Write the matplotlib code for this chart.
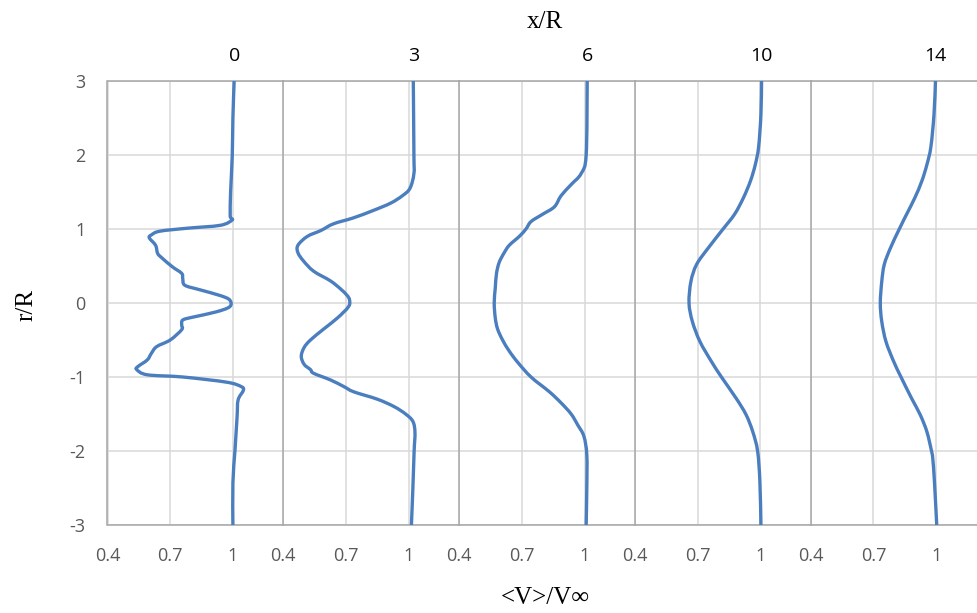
"""Mean velocity deficit profiles behind a rotor at several x/R stations."""

import matplotlib
matplotlib.use("Agg")
import matplotlib.pyplot as plt
import numpy as np
from matplotlib.path import Path
from matplotlib.patches import PathPatch
from matplotlib.transforms import blended_transform_factory

plt.rcParams["axes.unicode_minus"] = False

# x/R stations shown above each panel
stations = ["0", "3", "6", "10", "14"]

# <V>/Vinf profiles (r/R, value)
r0 = [3.0, 2.5, 2.0, 1.5, 1.2, 1.15, 1.12, 1.05, 1.01, 0.97, 0.92, 0.88, 0.78, 0.67,
      0.61, 0.49, 0.40, 0.33, 0.24, 0.18, 0.10, 0.04, -0.05, -0.12, -0.19, -0.23,
      -0.30, -0.36, -0.50, -0.59, -0.68, -0.77, -0.86, -0.90, -0.97, -1.00, -1.07,
      -1.13, -1.18, -1.31, -1.54, -1.99, -2.43, -3.0]
v0 = [1.006, 1.0, 0.997, 0.989, 0.987, 0.99, 0.996, 0.94, 0.78, 0.65, 0.61, 0.60, 0.63,
      0.64, 0.66, 0.71, 0.755, 0.76, 0.77, 0.84, 0.94, 0.985, 0.985, 0.92, 0.81, 0.76,
      0.755, 0.755, 0.70, 0.635, 0.61, 0.59, 0.545, 0.54, 0.59, 0.76, 0.97,
      1.04, 1.05, 1.025, 1.02, 1.01, 1.0, 1.0]

r3 = [3.0, 2.0, 1.75, 1.55, 1.45, 1.35, 1.25, 1.15, 1.07, 0.98, 0.90, 0.78, 0.68, 0.57,
      0.43, 0.30, 0.19, 0.10, 0.04, -0.05, -0.20, -0.35, -0.50, -0.60, -0.72, -0.83,
      -0.90, -0.95, -1.04, -1.13, -1.20, -1.30, -1.40, -1.50, -1.60, -1.75, -2.0,
      -2.5, -3.0]
v3 = [1.022, 1.025, 1.025, 1.006, 0.97, 0.914, 0.83, 0.735, 0.64, 0.58, 0.515, 0.47,
      0.47, 0.496, 0.545, 0.625, 0.674, 0.706, 0.717, 0.712, 0.66, 0.594, 0.53, 0.50,
      0.486, 0.50, 0.53, 0.545, 0.626, 0.69, 0.737, 0.85, 0.93, 0.985, 1.02, 1.03,
      1.026, 1.02, 1.013]

r6 = [3.0, 2.0, 1.75, 1.6, 1.45, 1.3, 1.2, 1.1, 1.0, 0.9, 0.78, 0.68, 0.55, 0.4, 0.2,
      0.0, -0.2, -0.35, -0.5, -0.65, -0.8, -1.0, -1.2, -1.35, -1.5, -1.65, -1.8,
      -2.05, -2.5, -3.0]
v6 = [1.013, 1.008, 0.984, 0.936, 0.888, 0.856, 0.80, 0.744, 0.72, 0.688, 0.64, 0.616,
      0.592, 0.579, 0.573, 0.568, 0.573, 0.584, 0.608, 0.64, 0.68, 0.744, 0.832,
      0.888, 0.936, 0.968, 0.997, 1.011, 1.011, 1.008]

r10 = [3.0, 2.55, 2.11, 1.87, 1.65, 1.42, 1.2, 1.0, 0.74, 0.52, 0.29, 0.0, -0.25,
       -0.52, -0.79, -1.0, -1.29, -1.51, -1.74, -2.0, -2.41, -3.0]
v10 = [1.006, 1.003, 0.992, 0.976, 0.953, 0.919, 0.877, 0.822, 0.75, 0.695, 0.668,
       0.659, 0.675, 0.711, 0.766, 0.814, 0.885, 0.932, 0.964, 0.987, 0.998, 1.003]

r14 = [3.0, 2.55, 2.11, 1.87, 1.65, 1.42, 1.2, 1.0, 0.74, 0.52, 0.29, 0.0, -0.25,
       -0.52, -0.79, -1.0, -1.29, -1.51, -1.74, -2.0, -2.1, -2.41, -3.0]
v14 = [0.997, 0.99, 0.975, 0.956, 0.932, 0.898, 0.859, 0.824, 0.781, 0.752, 0.74,
       0.733, 0.74, 0.76, 0.797, 0.832, 0.883, 0.924, 0.956, 0.978, 0.984, 0.992, 1.003]

profiles = [(r0, v0), (r3, v3), (r6, v6), (r10, v10), (r14, v14)]

x_ticks = [0.4, 0.7, 1.0]
x_tick_labels = ["0.4", "0.7", "1"]
y_ticks = [-3, -2, -1, 0, 1, 2, 3]

LINE = "#4A7EBF"
GRID = "#D9D9D9"
SPINE = "#A6A6A6"
TICK = "#595959"


def smooth_path(x, y):
    # Excel-style smoothed line: cubic Bezier through every point (Catmull-Rom handles)
    pts = np.column_stack([x, y])
    verts = [pts[0]]
    codes = [Path.MOVETO]
    n = len(pts)
    for k in range(n - 1):
        p0 = pts[max(k - 1, 0)]
        p1 = pts[k]
        p2 = pts[k + 1]
        p3 = pts[min(k + 2, n - 1)]
        verts += [p1 + (p2 - p0) / 6, p2 - (p3 - p1) / 6, p2]
        codes += [Path.CURVE4] * 3
    return Path(verts, codes)


W, H = 978, 613
fig = plt.figure(figsize=(W / 100, H / 100), dpi=100)

left_px, top_px, bottom_px, panel_px = 107.5, 81, 525, 175.8
unit_px = 125.4 / 0.6  # pixels per <V>/Vinf unit

for i, (r, v) in enumerate(profiles):
    x0 = left_px + i * panel_px
    width_px = min(panel_px, W - x0)
    ax = fig.add_axes([x0 / W, 1 - bottom_px / H, width_px / W, (bottom_px - top_px) / H])
    ax.set_xlim(0.4, 0.4 + width_px / unit_px)
    ax.set_ylim(-3, 3)

    ax.set_xticks(x_ticks)
    ax.set_xticklabels(x_tick_labels)
    ax.set_yticks(y_ticks)
    ax.tick_params(length=0, labelsize=13, labelcolor=TICK, pad=16)
    for lab in ax.get_xticklabels() + ax.get_yticklabels():
        lab.set_fontfamily("Open Sans")
    if i > 0:
        ax.tick_params(labelleft=False)

    ax.grid(True, color=GRID, linewidth=1.1)
    ax.set_axisbelow(True)
    for side in ["left", "right", "top", "bottom"]:
        ax.spines[side].set_color(SPINE)
        ax.spines[side].set_linewidth(1.1)
    ax.spines["right"].set_visible(False)

    ax.add_patch(PathPatch(smooth_path(v, r), facecolor="none", edgecolor=LINE,
                           linewidth=2.4, capstyle="butt", joinstyle="round", zorder=3))

    trans = blended_transform_factory(ax.transData, fig.transFigure)
    ax.text(v[0], 1 - 56 / H, stations[i], transform=trans, ha="center", va="center",
            fontsize=14, fontfamily="Open Sans", color="black")

fig.text(545 / W, 1 - 22 / H, "x/R", ha="center", va="center",
         fontsize=18, fontfamily="Liberation Serif")
fig.text(545 / W, 1 - 598 / H, "<V>/V\u221e", ha="center", va="center",
         fontsize=18, fontfamily=["Liberation Serif", "DejaVu Serif"])
fig.text(26 / W, 1 - 305 / H, "r/R", ha="center", va="center", rotation=90,
         fontsize=18, fontfamily="Liberation Serif")

fig.savefig("out.png", dpi=100)
